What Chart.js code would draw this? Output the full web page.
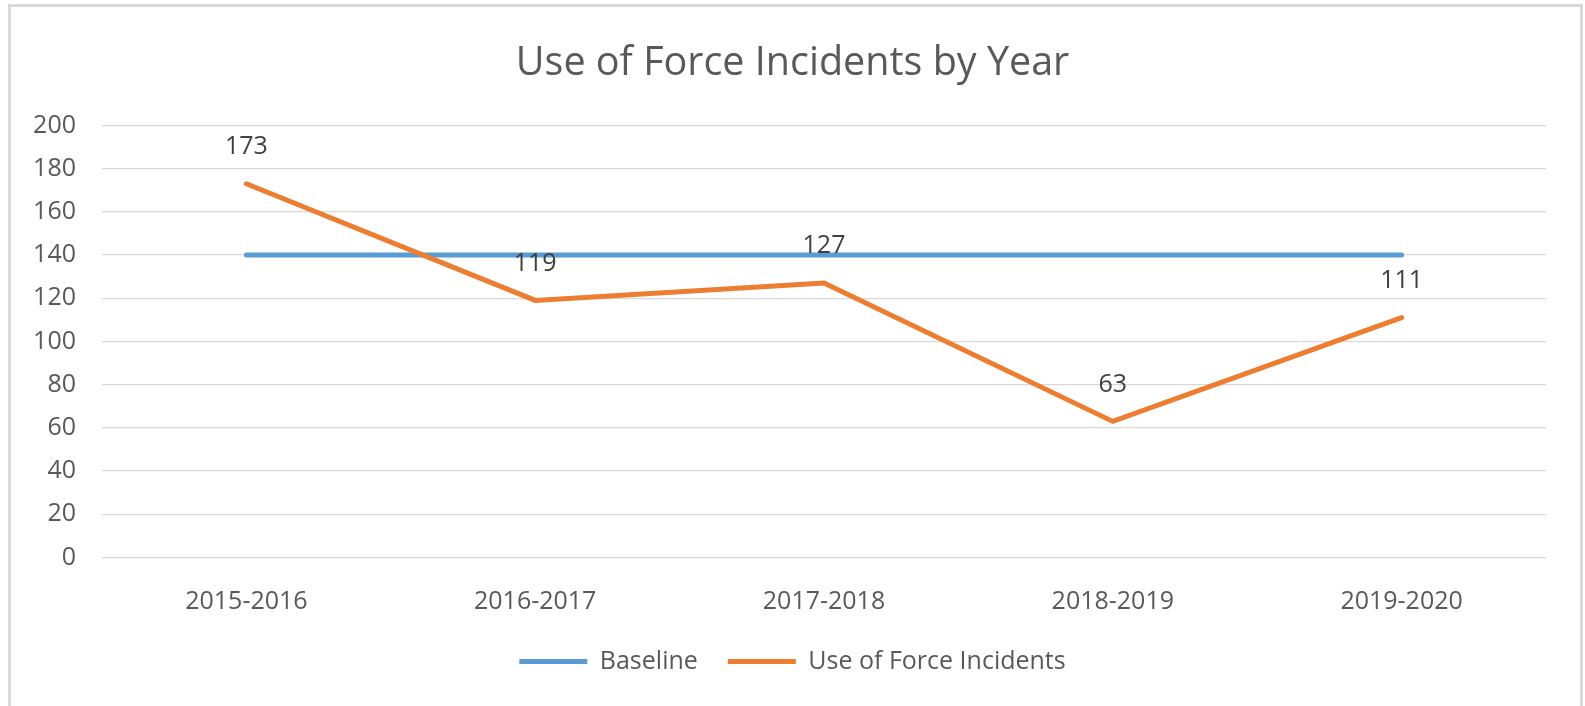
<!DOCTYPE html>
<html>
<head>
<meta charset="utf-8">
<script src="https://cdn.jsdelivr.net/npm/chart.js@4.4.0/dist/chart.umd.min.js"></script>
<style>
  html, body { margin: 0; padding: 0; background: #fff; }
  #wrap { position: relative; width: 1585px; height: 706px; overflow: hidden; }
  #frame {
    position: absolute; left: 8px; top: 4px; width: 1569px; height: 720px;
    border: 3px solid #d9d9d9; border-bottom: none;
  }
  #chart { position: absolute; left: 0; top: 0; }
</style>
</head>
<body>
<div id="wrap">
  <div id="frame"></div>
  <canvas id="chart" width="1585" height="706"></canvas>
</div>
<script>
const years = ['2015-2016', '2016-2017', '2017-2018', '2018-2019', '2019-2020'];
const baseline = [140, 140, 140, 140, 140];
const incidents = [173, 119, 127, 63, 111];
const yTicks = [0, 20, 40, 60, 80, 100, 120, 140, 160, 180, 200];

const FONT = "'Open Sans', 'Noto Sans', sans-serif";
const TEXT_GREY = '#595959';
const SMALL = 25;

// values written above the orange line
const pointLabels = {
  id: 'pointLabels',
  afterDatasetsDraw(chart) {
    const ctx = chart.ctx;
    const meta = chart.getDatasetMeta(1);
    ctx.save();
    ctx.font = `${SMALL}px ${FONT}`;
    ctx.fillStyle = '#404040';
    ctx.textAlign = 'center';
    ctx.textBaseline = 'middle';
    meta.data.forEach((pt, i) => {
      ctx.fillText(String(incidents[i]), pt.x, pt.y - 37);
    });
    ctx.restore();
  }
};

new Chart(document.getElementById('chart').getContext('2d'), {
  type: 'line',
  data: {
    labels: years,
    datasets: [
      {
        label: 'Baseline',
        data: baseline,
        borderColor: '#5B9BD5',
        backgroundColor: '#5B9BD5',
        borderWidth: 5,
        borderCapStyle: 'round',
        pointRadius: 0,
        order: 1
      },
      {
        label: 'Use of Force Incidents',
        data: incidents,
        borderColor: '#ED7D31',
        backgroundColor: '#ED7D31',
        borderWidth: 5,
        borderCapStyle: 'round',
        borderJoinStyle: 'miter',
        pointRadius: 0,
        order: 0
      }
    ]
  },
  options: {
    responsive: false,
    animation: false,
    layout: { padding: { left: 0, right: 0, top: 0, bottom: 22 } },
    plugins: {
      title: {
        display: true,
        text: 'Use of Force Incidents by Year',
        color: TEXT_GREY,
        font: { family: FONT, size: 39.5, weight: 'normal' },
        padding: { top: 40, bottom: 38 }
      },
      legend: {
        position: 'bottom',
        labels: {
          usePointStyle: true,
          pointStyle: 'line',
          pointStyleWidth: 68,
          color: TEXT_GREY,
          font: { family: FONT, size: SMALL },
          padding: 30,
          sort: (a, b) => a.datasetIndex - b.datasetIndex
        }
      },
      tooltip: { enabled: false }
    },
    scales: {
      x: {
        offset: true,
        grid: { display: false },
        border: { display: false },
        ticks: {
          color: TEXT_GREY,
          font: { family: FONT, size: SMALL },
          padding: 21,
          maxRotation: 0,
          autoSkip: false
        },
        afterFit: (s) => { s.height = 61.5; }
      },
      y: {
        min: 0,
        max: 200,
        afterBuildTicks: (s) => { s.ticks = yTicks.map(v => ({ value: v })); },
        grid: { color: '#d9d9d9', lineWidth: 1.2, drawTicks: false },
        border: { display: false },
        ticks: {
          color: TEXT_GREY,
          font: { family: FONT, size: SMALL },
          padding: 26
        },
        afterFit: (s) => { s.width = 102; }
      },
      yRight: {
        position: 'right',
        display: true,
        grid: { display: false },
        border: { display: false },
        ticks: { display: false },
        afterFit: (s) => { s.width = 39; }
      }
    }
  },
  plugins: [pointLabels]
});
</script>
</body>
</html>
